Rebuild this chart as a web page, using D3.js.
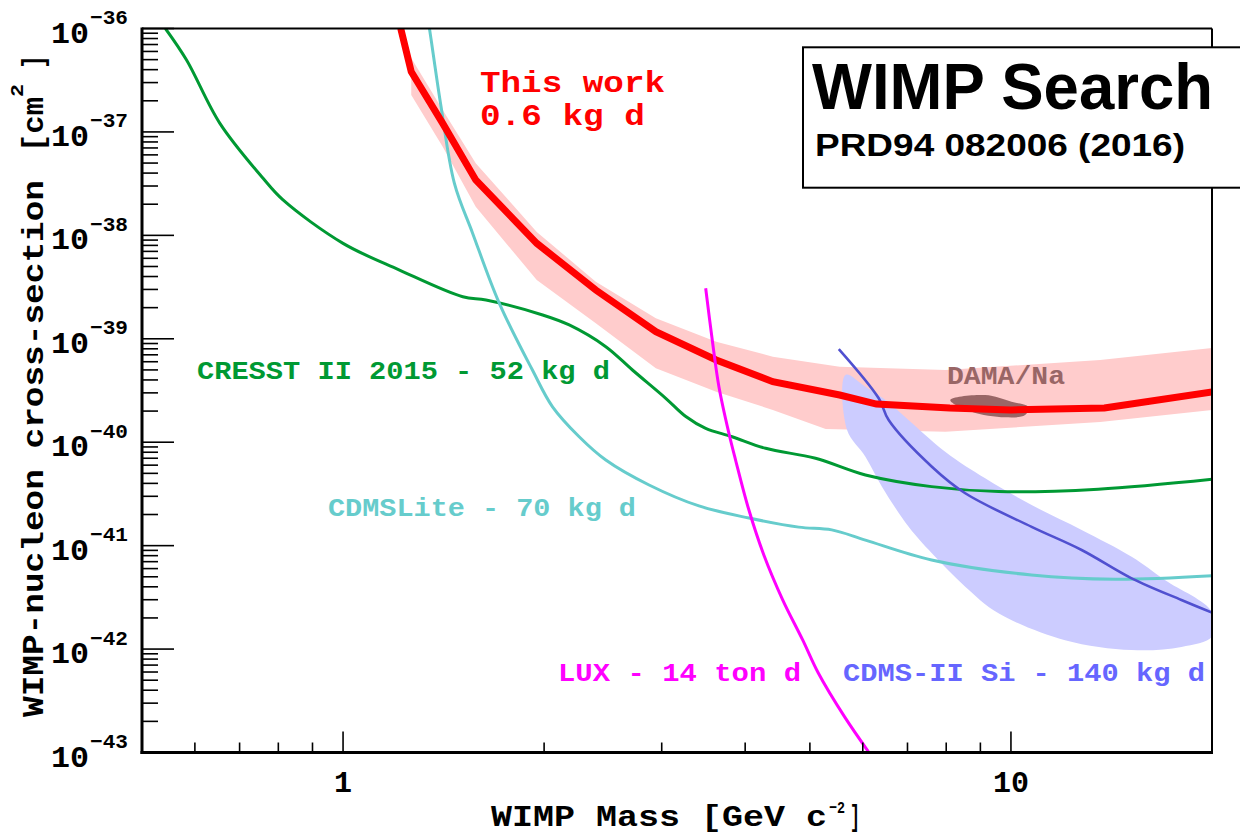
<!DOCTYPE html>
<html>
<head>
<meta charset="utf-8">
<script src="https://cdn.jsdelivr.net/npm/d3@7"></script>
<style>
  html, body { margin: 0; padding: 0; background: #fff; }
  svg { display: block; }
</style>
</head>
<body>
<svg id="chart" width="1240" height="834"></svg>
<script>
// ---- Exclusion limits: WIMP mass [GeV c^-2] vs. WIMP-nucleon cross-section [cm^2] ----

// This work (0.6 kg d) - limit curve
const thisWorkMass  = [1.22, 1.265, 1.41, 1.58, 1.95, 2.39, 2.94, 3.62, 4.40, 5.54, 6.29, 8.1, 10.0, 13.8, 20];
const thisWorkSigma = [1.0e-36, 3.82e-37, 1.21e-37, 3.43e-38, 8.37e-39, 2.96e-39, 1.17e-39, 6.24e-40, 3.85e-40, 2.86e-40, 2.34e-40, 2.14e-40, 2.05e-40, 2.14e-40, 3.06e-40];

// This work - expected band, upper and lower edges
const bandUpperMass  = [1.265, 1.41, 1.58, 1.95, 2.39, 2.94, 3.62, 4.40, 5.54, 7.98, 13.6, 20];
const bandUpperSigma = [5.19e-37, 1.63e-37, 4.97e-38, 1.08e-38, 3.56e-39, 1.58e-39, 9.38e-40, 6.71e-40, 5.37e-40, 4.99e-40, 6.24e-40, 8.15e-40];
const bandLowerMass  = [1.265, 1.41, 1.58, 1.95, 2.39, 2.94, 3.62, 4.40, 5.28, 7.98, 13.6, 20];
const bandLowerSigma = [2.28e-37, 7.19e-38, 1.89e-38, 3.70e-39, 1.41e-39, 5.19e-40, 3.08e-40, 2.05e-40, 1.34e-40, 1.26e-40, 1.57e-40, 2.05e-40];

// CRESST II 2015 - 52 kg d
const cresstMass  = [0.542, 0.583, 0.654, 0.759, 0.813, 1.0, 1.215, 1.511, 1.637, 1.99, 2.181, 2.474, 2.712, 3.042, 3.26, 3.491, 3.824, 4.292, 5.098, 6.055, 7.606, 9.58, 13.51, 20];
const cresstSigma = [1.0e-36, 4.96e-37, 1.21e-37, 3.56e-38, 2.20e-38, 8.37e-39, 4.62e-39, 2.55e-39, 2.37e-39, 1.70e-39, 1.36e-39, 8.39e-40, 4.99e-40, 2.66e-40, 1.77e-40, 1.36e-40, 1.13e-40, 8.73e-41, 6.99e-41, 4.82e-41, 3.72e-41, 3.33e-41, 3.51e-41, 4.38e-41];

// CDMSLite - 70 kg d
const cdmsLiteMass  = [1.347, 1.355, 1.402, 1.468, 1.563, 1.714, 1.921, 2.059, 2.257, 2.474, 2.872, 3.411, 4.052, 4.812, 5.391, 6.055, 7.606, 10.73, 14.32, 20];
const cdmsLiteSigma = [1.0e-36, 7.74e-37, 1.75e-37, 3.18e-38, 1.05e-38, 2.20e-39, 4.99e-40, 2.20e-40, 1.13e-40, 6.73e-41, 3.86e-41, 2.42e-41, 1.85e-41, 1.51e-41, 1.42e-41, 1.13e-41, 7.27e-42, 5.20e-42, 4.73e-42, 5.12e-42];

// LUX - 14 ton d
const luxMass  = [3.491, 3.571, 3.654, 3.782, 3.870, 4.052, 4.266, 4.554, 4.879, 5.147, 5.633, 6.13];
const luxSigma = [3.08e-39, 9.73e-40, 3.44e-40, 1.22e-40, 6.73e-41, 2.21e-41, 8.13e-42, 2.98e-42, 1.22e-42, 5.87e-43, 2.22e-43, 1.0e-43];

// CDMS-II Si - 140 kg d: limit line
const cdmsSiMass  = [5.524, 6.339, 6.56, 7.614, 8.542, 10.74, 12.76, 15.16, 18.0, 20];
const cdmsSiSigma = [7.96e-40, 2.66e-40, 1.64e-40, 5.80e-41, 3.21e-41, 1.52e-41, 9.08e-42, 4.83e-42, 2.98e-42, 2.25e-42];

// CDMS-II Si - signal region, upper and lower edges
const siRegionUpperMass  = [5.654, 6.055, 6.486, 7.972, 9.151, 10.74, 12.76, 15.16, 17.0, 20];
const siRegionUpperSigma = [4.47e-40, 3.44e-40, 2.56e-40, 8.10e-41, 4.48e-41, 2.47e-41, 1.42e-41, 7.82e-42, 4.66e-42, 2.28e-42];
const siRegionLowerMass  = [5.684, 6.055, 6.41, 7.028, 7.614, 8.542, 9.58, 12.05, 15.16, 18.0, 20];
const siRegionLowerSigma = [1.31e-40, 7.24e-41, 3.72e-41, 1.52e-41, 8.43e-42, 4.01e-42, 2.22e-42, 1.22e-42, 9.80e-43, 1.05e-42, 1.32e-42];

// DAMA/Na allowed region (outline)
const damaMass  = [8.113, 9.151, 10.02, 10.62, 10.50, 9.80, 8.73];
const damaSigma = [2.56e-40, 2.86e-40, 2.46e-40, 2.18e-40, 1.83e-40, 1.74e-40, 1.97e-40];

// Axis ticks
const yDecades = [-36, -37, -38, -39, -40, -41, -42, -43];
const xMajorTicks = [1, 10];
const xTickLabels = ["1", "10"];

// ---------------------------------------------------------------------
const svg = d3.select("#chart");
const MONO = "'Liberation Mono', 'Courier New', monospace";
const SANS = "'Liberation Sans', Arial, Helvetica, sans-serif";

const pLeft = 142, pRight = 1212, pTop = 28.5, pBottom = 752.5;
const x = d3.scaleLog().domain([0.5, 20]).range([pLeft, pRight]);
const y = d3.scaleLog().domain([1e-43, 1e-36]).range([pBottom, pTop]);

const zip = (ms, ss) => ms.map((m, i) => [m, ss[i]]);

svg.append("defs").append("clipPath").attr("id", "plotClip")
  .append("rect").attr("x", pLeft).attr("y", pTop)
  .attr("width", pRight - pLeft).attr("height", pBottom - pTop);

const plot = svg.append("g").attr("clip-path", "url(#plotClip)");

const lineLin = d3.line().x(d => x(d[0])).y(d => y(d[1])).curve(d3.curveLinear);
const lineSmooth = d3.line().x(d => x(d[0])).y(d => y(d[1])).curve(d3.curveCatmullRom.alpha(0.5));
const areaSmooth = d3.line().x(d => x(d[0])).y(d => y(d[1])).curve(d3.curveCatmullRomClosed.alpha(0.5));

// Expected band for this work
const bandPts = zip(bandUpperMass, bandUpperSigma).concat(zip(bandLowerMass, bandLowerSigma).reverse());
plot.append("path").attr("d", lineLin(bandPts) + "Z").attr("fill", "#ffcccc").attr("stroke", "none");

// CDMS-II Si signal region
const siPts = zip(siRegionUpperMass, siRegionUpperSigma).concat(zip(siRegionLowerMass, siRegionLowerSigma).reverse());
plot.append("path").attr("d", areaSmooth(siPts)).attr("fill", "#ccccff").attr("stroke", "none");

// Other experiments
plot.append("path").attr("d", lineSmooth(zip(cresstMass, cresstSigma)))
  .attr("fill", "none").attr("stroke", "#009933").attr("stroke-width", 3);
plot.append("path").attr("d", lineSmooth(zip(cdmsLiteMass, cdmsLiteSigma)))
  .attr("fill", "none").attr("stroke", "#66cccc").attr("stroke-width", 3);
plot.append("path").attr("d", lineSmooth(zip(cdmsSiMass, cdmsSiSigma)))
  .attr("fill", "none").attr("stroke", "#5050d0").attr("stroke-width", 2.6);

// DAMA/Na region
plot.append("path").attr("d", areaSmooth(zip(damaMass, damaSigma)))
  .attr("fill", "#996666").attr("stroke", "none");

// This work
plot.append("path").attr("d", lineLin(zip(thisWorkMass, thisWorkSigma)))
  .attr("fill", "none").attr("stroke", "#ff0000").attr("stroke-width", 7).attr("stroke-linejoin", "miter");

// LUX
plot.append("path").attr("d", lineSmooth(zip(luxMass, luxSigma)))
  .attr("fill", "none").attr("stroke", "#ff00ff").attr("stroke-width", 3);

// ---- Frame and ticks ----
const frame = svg.append("g").attr("stroke", "#000").attr("fill", "none");
frame.append("line").attr("x1", pLeft).attr("x2", pRight).attr("y1", pTop).attr("y2", pTop).attr("stroke-width", 2);
frame.append("line").attr("x1", pRight).attr("x2", pRight).attr("y1", pTop).attr("y2", pBottom).attr("stroke-width", 2);
frame.append("line").attr("x1", pLeft).attr("x2", pLeft).attr("y1", pTop - 1).attr("y2", pBottom + 1.5).attr("stroke-width", 3);
frame.append("line").attr("x1", pLeft - 1.5).attr("x2", pRight + 1).attr("y1", pBottom).attr("y2", pBottom).attr("stroke-width", 3);

// y ticks (major + minor, inside)
const yMinor = [];
yDecades.slice(0, -1).forEach(e => { for (let k = 2; k <= 9; k++) yMinor.push(k * Math.pow(10, e - 1)); });
frame.selectAll(".ymin").data(yMinor).join("line")
  .attr("x1", pLeft).attr("x2", pLeft + 16)
  .attr("y1", d => y(d)).attr("y2", d => y(d)).attr("stroke-width", 1.6);
frame.selectAll(".ymaj").data(yDecades).join("line")
  .attr("x1", pLeft).attr("x2", pLeft + 32)
  .attr("y1", d => y(Math.pow(10, d))).attr("y2", d => y(Math.pow(10, d))).attr("stroke-width", 1.6);

// x ticks
const xMinor = x.ticks().filter(v => v > 0.55 && v < 19 && !xMajorTicks.includes(v));
frame.selectAll(".xmin").data(xMinor).join("line")
  .attr("x1", d => x(d)).attr("x2", d => x(d))
  .attr("y1", pBottom).attr("y2", pBottom - 10).attr("stroke-width", 1.6);
frame.selectAll(".xmaj").data(xMajorTicks).join("line")
  .attr("x1", d => x(d)).attr("x2", d => x(d))
  .attr("y1", pBottom).attr("y2", pBottom - 21).attr("stroke-width", 1.6);

// ---- Text helper ----
function txt(g, px, py, s, o) {
  const t = g.append("text").attr("x", px).attr("y", py).text(s)
    .attr("font-family", o.family || MONO).attr("font-weight", "bold")
    .attr("font-size", o.size).attr("fill", o.fill || "#000");
  if (o.len) t.attr("textLength", o.len).attr("lengthAdjust", "spacingAndGlyphs");
  if (o.anchor) t.attr("text-anchor", o.anchor);
  return t;
}

// y tick labels: 10^-N
const labels = svg.append("g");
yDecades.forEach(e => {
  const py = y(Math.pow(10, e));
  txt(labels, 89, py + 14, "10", { size: 30, anchor: "end", len: 38 });
  txt(labels, 90, py - 4.5, "\u2212" + Math.abs(e), { size: 20, len: 38 });
});

// x tick labels
xMajorTicks.forEach((v, i) => {
  txt(labels, x(v), 792, xTickLabels[i], { size: 30, anchor: "middle" });
});

// x axis title
txt(labels, 491, 826, "WIMP Mass [GeV c", { size: 30, len: 336 });
txt(labels, 829, 813, "\u22122", { size: 17, len: 16 });
txt(labels, 850, 826, "]", { size: 30, len: 10 });

// y axis title (rotated)
const yt = labels.append("g").attr("transform", "translate(43,717) rotate(-90)");
txt(yt, 0, 0, "WIMP-nucleon cross-section", { size: 30, len: 537 });
txt(yt, 565, 0, "[cm", { size: 30, len: 55 });
txt(yt, 620, -20, "2", { size: 19, len: 13 });
txt(yt, 648, 0, "]", { size: 30, len: 14 });

// Curve labels
txt(labels, 480, 91.7, "This work", { size: 30, len: 185, fill: "#ff0000" });
txt(labels, 480, 125, "0.6 kg d", { size: 30, len: 165, fill: "#ff0000" });
txt(labels, 197, 378.5, "CRESST II 2015 - 52 kg d", { size: 26, len: 413, fill: "#009933" });
txt(labels, 328, 515.5, "CDMSLite - 70 kg d", { size: 26, len: 308, fill: "#66cccc" });
txt(labels, 558, 680.5, "LUX - 14 ton d", { size: 26, len: 243, fill: "#ff00ff" });
txt(labels, 843, 680.5, "CDMS-II Si - 140 kg d", { size: 26, len: 362, fill: "#6666ff" });
txt(labels, 947, 384.3, "DAMA/Na", { size: 26, len: 118, fill: "#996666" });

// Title box
const box = svg.append("g");
box.append("rect").attr("x", 803).attr("y", 47.3).attr("width", 460).attr("height", 140.4)
  .attr("fill", "#fff").attr("stroke", "#000").attr("stroke-width", 2);
txt(box, 812, 109.3, "WIMP Search", { family: SANS, size: 64, len: 401 });
txt(box, 815, 155.5, "PRD94 082006 (2016)", { family: SANS, size: 31, len: 370 });
</script>
</body>
</html>
